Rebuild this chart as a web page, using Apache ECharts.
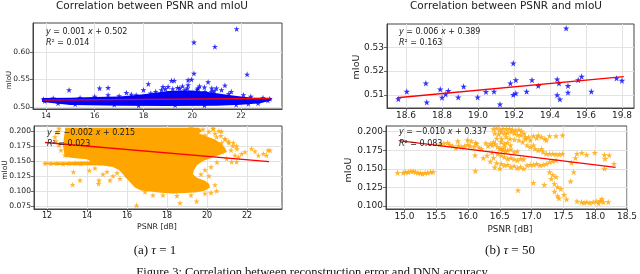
<!DOCTYPE html>
<html><head><meta charset="utf-8">
<script src="https://cdn.jsdelivr.net/npm/echarts@6/dist/echarts.min.js"></script>
<style>html,body{margin:0;padding:0;background:#fff}#c{width:640px;height:274px}</style>
</head><body><div id="c"></div>
<script>
// ---------- data ----------
// (a) tau = 1, top panel: blue stars outside the dense band
const tau1TopPoints = [
 [14.95,0.531],[16.2,0.534],[16.55,0.535],[16.55,0.522],[17.3,0.526],[17.7,0.522],[18.0,0.531],[18.2,0.542],
 [18.5,0.528],[18.74,0.531],[18.8,0.537],[18.9,0.533],[19.01,0.537],[19.15,0.548],[19.26,0.548],[19.4,0.535],
 [19.49,0.534],[19.6,0.538],[19.7,0.531],[19.83,0.540],[19.83,0.549],[19.97,0.550],[20.07,0.561],[20.07,0.6176],
 [20.24,0.534],[20.3,0.538],[20.52,0.528],[20.5,0.536],[20.65,0.5455],[20.79,0.528],[20.8,0.534],[20.93,0.6097],
 [20.99,0.534],[21.2,0.531],[21.34,0.5394],[21.82,0.642],[22.25,0.5594],[21.6,0.528],[22.1,0.522],[22.7,0.507],
 [23.18,0.515],[13.9,0.514],[14.3,0.516],[15.4,0.517],[16.0,0.519],[17.0,0.520],[17.5,0.523],[18.3,0.525],
 [19.2,0.533],[19.8,0.534],[20.2,0.532],[20.9,0.529],[21.5,0.524],[22.4,0.519],[22.9,0.517],[15.2,0.505],
 [17.8,0.503],[20.5,0.503],[22.3,0.506],[14.5,0.507],[16.8,0.5045],[19.3,0.5035],[21.8,0.5045],[13.95,0.511],[23.1,0.512]
];
// outline of the solid blue band (thousands of overlapping stars)
const tau1TopBand = [
 [13.85,0.5165],[15,0.517],[16,0.518],[17,0.519],[17.5,0.521],[18,0.523],[18.5,0.526],[19,0.529],[19.5,0.530],
 [20,0.530],[20.5,0.528],[21,0.525],[21.5,0.522],[22,0.519],[22.5,0.517],[23.25,0.5165],[23.25,0.5125],
 [22.8,0.507],[22,0.504],[21,0.5025],[19,0.502],[17,0.5025],[15,0.5035],[13.85,0.509]
];
const tau1TopFit = [[13.9,0.5125],[23.2,0.5155]];

// (a) tau = 1, bottom panel: orange stars outside the dense cloud
const tau1BottomPoints = [
 [12.9,0.1595],[13.32,0.1317],[13.65,0.1178],[14.12,0.1344],[13.28,0.1106],[14.6,0.1178],[14.58,0.1122],[15.15,0.1178],
 [15.65,0.1206],[15.98,0.1261],[16.48,0.0761],[16.9,0.0983],[14.8,0.128],[15.3,0.125],[14.4,0.138],[15.0,0.132],[15.5,0.130],
 [11.9,0.146],[12.2,0.1455],[12.5,0.146],[12.8,0.145],[13.1,0.146],[13.4,0.1465],[13.7,0.1455],
 [12.4,0.190],[12.5,0.198],[12.45,0.183],[12.6,0.176],[12.7,0.168],[12.6,0.204],
 [21.23,0.1483],[21.4,0.1594],[21.48,0.1483],[21.57,0.1567],[21.73,0.1622],[21.9,0.165],[22.23,0.1706],[22.4,0.1661],
 [22.57,0.1594],[22.82,0.1622],[22.98,0.1594],[23.05,0.168],[23.15,0.1678],[20.98,0.1539],[20.6,0.200],[20.3,0.204],
 [20.7,0.192],[20.9,0.186],[21.1,0.180],[21.3,0.175],[20.4,0.196],[21.5,0.170],[21.2,0.168],[20.75,0.165],[20.5,0.148],
 [20.2,0.140],[19.9,0.135],[19.7,0.128],[20.1,0.125],[20.4,0.110],[20.48,0.100],[20.2,0.097],[19.48,0.0828],[18.65,0.080],
 [17.3,0.093],[17.8,0.093],[18.5,0.092],[19.2,0.093],[19.9,0.096],[19.2,0.205],[19.8,0.203],[20.1,0.199],
 [20.32,0.2039],[20.73,0.1994],[20.48,0.190],[19.9,0.1928],[20.07,0.1844],[20.9,0.1872],[21.07,0.1828],[21.32,0.1806],
 [21.48,0.175],[20.73,0.1806]
];
// outline of the solid orange cloud
const tau1BottomCore = [
 [12.9,0.2055],[19.6,0.2055],[19.75,0.2005],[19.6,0.196],[19.9,0.192],[20.4,0.186],[20.7,0.179],[20.9,0.172],[21.0,0.165],
 [20.6,0.160],[20.2,0.155],[19.8,0.150],[19.5,0.143],[19.35,0.135],[19.3,0.128],[19.5,0.122],[19.9,0.117],[20.1,0.112],
 [20.15,0.106],[19.9,0.101],[19.5,0.098],[18.9,0.0965],[18.3,0.096],[17.7,0.097],[17.2,0.099],[16.7,0.101],[16.4,0.106],
 [16.2,0.113],[16.0,0.120],[15.8,0.128],[15.6,0.135],[15.3,0.140],[14.8,0.1425],[13.6,0.143],[12.5,0.1435],[11.85,0.1445],
 [11.85,0.1475],[13.0,0.148],[14.2,0.149],[14.0,0.153],[13.3,0.155],[12.9,0.157],[12.85,0.165],[12.8,0.175],[12.85,0.19],[12.9,0.2]
];
const tau1BottomFit = [[11.9,0.1808],[23.1,0.149]];

// (b) tau = 50, top panel
const tau50TopPoints = [
 [18.557,0.5083],[18.604,0.5114],[18.71,0.5149],[18.715,0.5069],[18.79,0.5124],[18.80,0.5089],[18.82,0.5103],[18.835,0.5117],
 [18.89,0.509],[18.92,0.5135],[18.998,0.509],[19.044,0.5113],[19.089,0.5114],[19.122,0.5061],[19.18,0.5149],[19.196,0.5233],
 [19.196,0.5101],[19.21,0.5107],[19.21,0.5163],[19.27,0.5114],[19.30,0.5163],[19.335,0.5138],[19.44,0.510],[19.455,0.5082],
 [19.44,0.5166],[19.45,0.5149],[19.49,0.538],[19.50,0.5138],[19.50,0.511],[19.557,0.5163],[19.576,0.5177],[19.63,0.5114],
 [19.77,0.517],[19.80,0.516]
];
const tau50TopFit = [[18.55,0.5088],[19.81,0.5177]];

// (b) tau = 50, bottom panel
const tau50BottomPoints = [
 [14.893,0.1449],[14.98,0.1449],[15.02,0.1458],[15.06,0.1458],[15.10,0.1467],[15.137,0.1467],[15.172,0.1458],[15.213,0.1449],
 [15.249,0.1444],[15.284,0.1435],[15.325,0.1449],[15.365,0.1449],[15.411,0.1458],[15.452,0.1462],
 [15.56,0.183],[15.62,0.1843],[15.68,0.1852],[15.715,0.1825],[15.76,0.1807],[15.81,0.1781],[15.84,0.1875],[15.85,0.1816],
 [15.9,0.1794],[15.944,0.1807],[15.99,0.1888],[15.994,0.1825],[16.035,0.1807],[16.05,0.1875],[16.096,0.1798],[16.11,0.1682],
 [16.12,0.1852],[16.136,0.1839],[16.172,0.1789],[16.213,0.1772],[16.24,0.1645],[16.28,0.1848],[16.314,0.1807],[16.35,0.1839],
 [16.38,0.1816],[16.43,0.1834],[16.466,0.1794],[16.50,0.1772],[16.55,0.1749],[16.59,0.1736],[16.116,0.147],
 [16.40,0.2035],[16.45,0.2045],[16.50,0.203],[16.55,0.2041],[16.60,0.2035],[16.65,0.2041],[16.70,0.203],[16.75,0.202],
 [16.80,0.203],[16.84,0.201],[16.42,0.198],[16.48,0.1965],[16.52,0.1996],[16.57,0.1975],[16.62,0.1985],[16.68,0.1996],
 [16.73,0.198],[16.78,0.196],[16.83,0.1951],[16.88,0.1975],[16.45,0.191],[16.53,0.1906],[16.60,0.1928],[16.66,0.1906],
 [16.73,0.1895],[16.80,0.1884],[16.86,0.1861],[16.90,0.1928],[16.40,0.186],[16.52,0.1861],[16.57,0.1839],[16.62,0.185],[16.67,0.1817],
 [16.522,0.1772],[16.573,0.1794],[16.624,0.1749],[16.674,0.1763],[16.725,0.1727],[16.776,0.1736],
 [16.522,0.1682],[16.573,0.166],[16.624,0.1637],[16.674,0.1646],[16.725,0.1628],[16.776,0.1615],[16.826,0.1637],[16.877,0.1628],
 [16.522,0.157],[16.573,0.1547],[16.624,0.1556],[16.674,0.1525],[16.725,0.1538],[16.776,0.1512],[16.826,0.1525],[16.877,0.1503],
 [16.928,0.1547],[16.979,0.1556],[16.40,0.165],[16.45,0.158],[16.38,0.172],[16.42,0.152],[16.47,0.170],[16.35,0.160],[16.50,0.1505],[16.30,0.168],
 [16.903,0.1906],[16.953,0.1929],[16.979,0.1884],[17.029,0.1942],[17.08,0.1915],[17.105,0.1951],[17.156,0.1929],[17.207,0.1906],
 [17.232,0.1884],[17.283,0.1942],[17.384,0.1942],[17.486,0.1951],
 [16.928,0.1817],[16.979,0.1794],[17.029,0.1817],[17.054,0.1772],[17.105,0.1749],[17.156,0.1772],[17.181,0.1727],[17.232,0.1704],
 [17.283,0.1704],[17.334,0.1704],[17.384,0.1695],[17.435,0.1695],[17.486,0.1704],
 [17.029,0.1556],[17.08,0.157],[17.131,0.1547],[17.181,0.1556],[17.232,0.157],[17.283,0.1592],[17.334,0.1601],[17.384,0.1615],
 [17.283,0.1458],[17.334,0.1422],[17.308,0.1368],[17.384,0.139],[17.029,0.1314],[17.359,0.1301],[17.41,0.1256],[17.46,0.1233],
 [17.2,0.1285],[17.36,0.1195],[17.43,0.1105],[17.55,0.109],[17.41,0.1134],[17.511,0.1152],[17.613,0.1332],
 [17.689,0.1646],[17.628,0.1583],[17.663,0.1458],[17.714,0.1704],[17.79,0.1718],[17.866,0.1691],[17.993,0.1718],
 [18.145,0.1691],[18.22,0.1682],[18.155,0.1637],[18.145,0.1503],[18.296,0.157],[16.786,0.1211],
 [17.714,0.1063],[17.786,0.1054],[17.826,0.1045],[17.867,0.1054],[17.917,0.1045],[17.968,0.1054],[18.019,0.1063],
 [18.054,0.1036],[18.08,0.1072],[18.105,0.1099],[18.13,0.1054],[18.206,0.1054]
];
const tau50BottomFit = [[14.91,0.1879],[18.32,0.152]];

// tick values
const ticksTLx = [14,16,18,20,22];
const ticksTLy = [0.50,0.55,0.60];
const ticksBLx = [12,14,16,18,20,22];
const ticksBLy = [0.075,0.100,0.125,0.150,0.175,0.200];
const ticksTRx = [18.6,18.8,19.0,19.2,19.4,19.6,19.8];
const ticksTRy = [0.51,0.52,0.53];
const ticksBRx = [15.0,15.5,16.0,16.5,17.0,17.5,18.0,18.5];
const ticksBRy = [0.100,0.125,0.150,0.175,0.200];

// ---------- chart ----------
const FONT = 'DejaVu Sans';
const STAR = 'path://M0,-1L0.2245,-0.309L0.951,-0.309L0.363,0.118L0.588,0.809L0,0.382L-0.588,0.809L-0.363,0.118L-0.951,-0.309L-0.2245,-0.309Z';
const BLUE = '#0000ff', ORANGE = '#ffa500', RED = '#ff0000';

function axis(gi, min, max, ticks, dec, fs) {
  return {
    type: 'value', gridIndex: gi, min: min, max: max, scale: true,
    axisLine: {show: true, onZero: false, lineStyle: {color: '#444', width: 1}},
    axisTick: {show: true, customValues: ticks, length: 3, lineStyle: {color: '#444', width: 0.8}},
    axisLabel: {customValues: ticks, formatter: v => Number(v).toFixed(dec), fontSize: fs,
                color: '#222', fontFamily: FONT, margin: 3},
    splitLine: {show: true, lineStyle: {color: '#e3e3e3', width: 1}}
  };
}
function scatter(i, data, color, size) {
  return {type: 'scatter', xAxisIndex: i, yAxisIndex: i, data: data, symbol: STAR, symbolSize: size,
          itemStyle: {color: color}, silent: true, z: 3};
}
function fit(i, data) {
  return {type: 'line', xAxisIndex: i, yAxisIndex: i, data: data, symbol: 'none', silent: true, z: 6,
          lineStyle: {color: RED, width: 1.3}};
}
function cloud(i, pts, color) {
  return {type: 'custom', xAxisIndex: i, yAxisIndex: i, silent: true, z: 2, clip: true,
    data: [pts[0]],
    renderItem: function (params, api) {
      return {type: 'polygon', shape: {points: pts.map(p => api.coord(p))}, style: {fill: color}};
    }};
}
function txt(x, y, text, fs, extra) {
  return Object.assign({type: 'text', x: x, y: y, z: 100, silent: true,
    style: {text: text, fontSize: fs, fontFamily: FONT, fill: '#222', align: 'center', verticalAlign: 'middle'}}, extra || {});
}
function eq(x, y, s) {
  return {type: 'text', x: x, y: y, z: 100, silent: true,
    style: {text: s, fontSize: 8, fontFamily: FONT, fill: '#222', align: 'left', verticalAlign: 'middle',
            rich: {i: {fontStyle: 'italic', fontSize: 8, fontFamily: FONT, fill: '#222'}}}};
}
function cap(x, y, s, fs) {
  return {type: 'text', x: x, y: y, z: 100, silent: true,
    style: {text: s, fontSize: fs, fontFamily: 'Liberation Serif', fill: '#111', align: 'center', verticalAlign: 'middle',
            rich: {i: {fontStyle: 'italic', fontSize: fs, fontFamily: 'Liberation Serif', fill: '#111'}}}};
}

const gridStyle = {show: true, borderColor: '#444', borderWidth: 1, containLabel: false};
const option = {
  animation: false,
  backgroundColor: '#fff',
  grid: [
    Object.assign({left: 33, top: 23, width: 249, height: 86}, gridStyle),
    Object.assign({left: 34, top: 126, width: 248, height: 83}, gridStyle),
    Object.assign({left: 387, top: 24, width: 247, height: 84}, gridStyle),
    Object.assign({left: 386, top: 126, width: 248, height: 83}, gridStyle)
  ],
  xAxis: [
    axis(0, 13.47, 23.68, ticksTLx, 0, 7.5),
    axis(1, 11.35, 23.75, ticksBLx, 0, 8),
    axis(2, 18.494, 19.867, ticksTRx, 1, 9),
    axis(3, 14.71, 18.5, ticksBRx, 1, 9)
  ],
  yAxis: [
    axis(0, 0.4964, 0.6527, ticksTLy, 2, 7.5),
    axis(1, 0.070, 0.2083, ticksBLy, 3, 7.6),
    axis(2, 0.5045, 0.5398, ticksTRy, 2, 9),
    axis(3, 0.096, 0.2077, ticksBRy, 3, 9)
  ],
  series: [
    cloud(0, tau1TopBand, BLUE), scatter(0, tau1TopPoints, BLUE, 6), fit(0, tau1TopFit),
    cloud(1, tau1BottomCore, ORANGE), scatter(1, tau1BottomPoints, ORANGE, 6), fit(1, tau1BottomFit),
    scatter(2, tau50TopPoints, BLUE, 6.5), fit(2, tau50TopFit),
    scatter(3, tau50BottomPoints, ORANGE, 6.5), fit(3, tau50BottomFit)
  ],
  graphic: {elements: [
    txt(152, 6, 'Correlation between PSNR and mIoU', 10.5),
    txt(506, 6, 'Correlation between PSNR and mIoU', 10.5),
    txt(9, 80, 'mIoU', 7, {rotation: Math.PI / 2}),
    txt(5, 170, 'mIoU', 7.5, {rotation: Math.PI / 2}),
    txt(357, 67, 'mIoU', 9.5, {rotation: Math.PI / 2}),
    txt(349, 170, 'mIoU', 9.5, {rotation: Math.PI / 2}),
    txt(157, 227, 'PSNR [dB]', 7.8),
    txt(510, 230, 'PSNR [dB]', 8.8),
    eq(46, 32, '{i|y} = 0.001 {i|x} + 0.502'),
    eq(46, 43, '{i|R}² = 0.014'),
    eq(47, 133, '{i|y} = −0.002 {i|x} + 0.215'),
    eq(47, 144, '{i|R}² = 0.023'),
    eq(399, 32, '{i|y} = 0.006 {i|x} + 0.389'),
    eq(399, 43, '{i|R}² = 0.163'),
    eq(399, 132, '{i|y} = −0.010 {i|x} + 0.337'),
    eq(399, 144, '{i|R}² = 0.083'),
    cap(155, 251, '(a) {i|τ} = 1', 13),
    cap(510, 251, '(b) {i|τ} = 50', 13),
    cap(312, 273, 'Figure 3: Correlation between reconstruction error and DNN accuracy', 12.5)
  ]}
};
const chart = echarts.init(document.getElementById('c'), null, {renderer: 'canvas'});
chart.setOption(option);
</script></body></html>
